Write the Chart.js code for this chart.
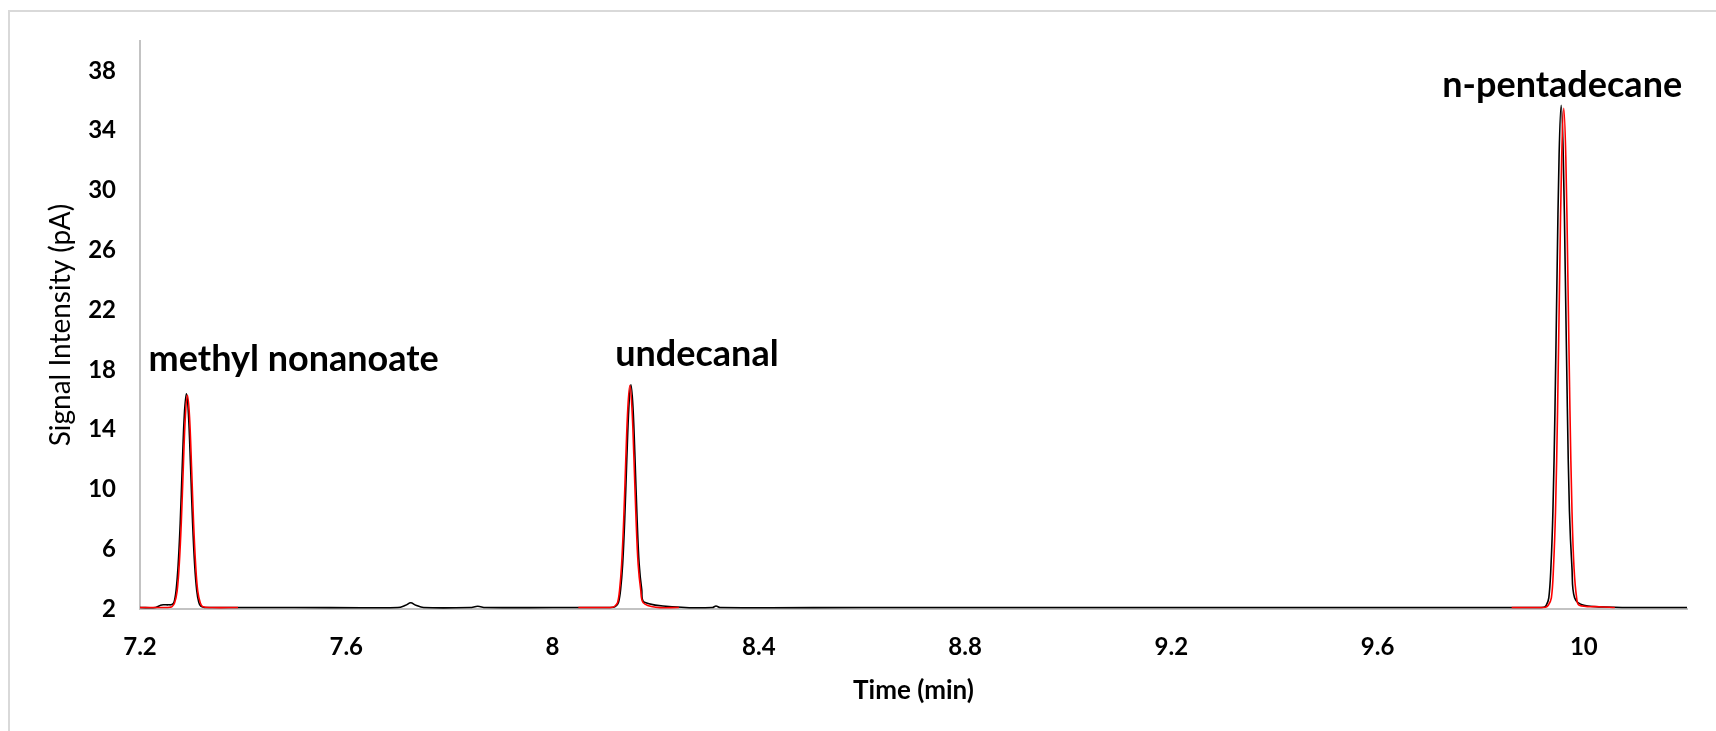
<!DOCTYPE html>
<html>
<head>
<meta charset="utf-8">
<script src="https://cdn.jsdelivr.net/npm/chart.js@4.4.1/dist/chart.umd.min.js"></script>
<style>
    html, body { margin: 0; padding: 0; background: #fff; overflow: hidden; }
    #cadre {
        position: absolute; left: 8px; top: 10px; width: 1760px; height: 780px;
        border-left: 2px solid #d9d9d9; border-top: 2px solid #d9d9d9;
    }
    #zone { position: absolute; left: 0; top: 0; width: 1716px; height: 731px; }
</style>
</head>
<body>
<div id="cadre"></div>
<div id="zone"><canvas id="chromato" width="1716" height="731"></canvas></div>
<script>
// trace noire (continue), temps en min / signal en pA
const tempsNoir = [
    7.20, 7.23, 7.240, 7.245, 7.255, 7.262, 7.266, 7.270, 7.274, 7.278, 7.282, 7.286, 7.290, 7.294,
    7.298, 7.302, 7.306, 7.310, 7.314, 7.318, 7.323, 7.328, 7.36,
    7.50, 7.70, 7.715, 7.725, 7.735, 7.75, 7.84, 7.855, 7.87, 8.00, 8.10,
    8.118, 8.123, 8.128, 8.132, 8.136, 8.140, 8.144, 8.148, 8.152, 8.156, 8.160, 8.164, 8.168,
    8.173, 8.178, 8.25, 8.31, 8.317, 8.325, 8.60, 9.00, 9.40, 9.80, 9.90,
    9.922, 9.927, 9.932, 9.936, 9.940, 9.944, 9.948, 9.952, 9.956, 9.960, 9.964, 9.968, 9.972,
    9.977, 9.982, 10.00, 10.06, 10.10, 10.20
];
const signalNoir = [
    2.10, 2.10, 2.25, 2.28, 2.28, 2.30, 2.45, 3.25, 4.95, 7.75, 11.6, 15.0, 16.4, 15.0,
    11.6, 7.75, 4.95, 3.25, 2.45, 2.18, 2.12, 2.10, 2.10,
    2.10, 2.10, 2.25, 2.42, 2.25, 2.10, 2.10, 2.18, 2.10, 2.10, 2.10,
    2.12, 2.20, 2.45, 3.30, 5.00, 8.00, 12.0, 15.5, 17.0, 15.5, 12.0, 8.00, 5.00,
    3.30, 2.45, 2.12, 2.10, 2.20, 2.10, 2.10, 2.10, 2.10, 2.10, 2.10,
    2.12, 2.25, 2.75, 4.70, 8.55, 15.4, 24.4, 32.4, 35.7, 32.4, 24.4, 15.4, 8.55,
    4.70, 2.75, 2.25, 2.12, 2.10, 2.10, 2.10
];

// trace rouge (par segments, null = coupure)
const tempsRouge = [
    7.20, 7.25, 7.258, 7.262, 7.267, 7.272, 7.276, 7.280, 7.284, 7.288, 7.292, 7.296, 7.300,
    7.304, 7.308, 7.312, 7.317, 7.322, 7.34, 7.39, 7.40,
    8.05, 8.10, 8.116, 8.121, 8.126, 8.130, 8.134, 8.138, 8.142, 8.146, 8.150, 8.154, 8.158,
    8.162, 8.166, 8.171, 8.176, 8.20, 8.245, 8.25,
    9.86, 9.90, 9.926, 9.931, 9.937, 9.941, 9.945, 9.949, 9.953, 9.957, 9.961, 9.965, 9.969,
    9.973, 9.977, 9.981, 9.986, 9.991, 10.03, 10.06
];
const signalRouge = [
    2.10, 2.10, 2.12, 2.15, 2.40, 3.20, 4.90, 7.70, 11.5, 14.9, 16.3, 14.9, 11.5,
    7.70, 4.90, 3.20, 2.40, 2.15, 2.10, 2.10, null,
    2.10, 2.10, 2.12, 2.20, 2.42, 3.27, 5.00, 7.95, 11.95, 15.45, 16.95, 15.45, 11.95,
    7.95, 5.00, 3.27, 2.42, 2.12, 2.10, null,
    2.10, 2.10, 2.12, 2.25, 2.75, 4.70, 8.50, 15.3, 24.2, 32.2, 35.5, 32.2, 24.2,
    15.3, 8.50, 4.70, 2.75, 2.25, 2.15, 2.10
];

// étiquettes des pics : texte, temps du centre, signal du centre
const nomsPics = ['methyl nonanoate', 'undecanal', 'n-pentadecane'];
const tempsEtiquettes = [7.498, 8.28, 9.958];
const signalEtiquettes = [18.7, 19.05, 37.05];

// graduations
const graduationsX = [7.2, 7.6, 8, 8.4, 8.8, 9.2, 9.6, 10];
const graduationsY = [2, 6, 10, 14, 18, 22, 26, 30, 34, 38];

const POLICE = "Lato, 'Open Sans', sans-serif";

function versPoints(temps, signal) {
    return temps.map((t, i) => ({ x: t, y: signal[i] }));
}

const etiquettesPics = {
    id: 'etiquettesPics',
    afterDatasetsDraw(chart) {
        const { ctx, scales } = chart;
        ctx.save();
        ctx.fillStyle = '#000';
        ctx.font = 'bold 36px ' + POLICE;
        ctx.textAlign = 'center';
        ctx.textBaseline = 'middle';
        nomsPics.forEach((nom, i) => {
            ctx.fillText(nom, scales.x.getPixelForValue(tempsEtiquettes[i]), scales.y.getPixelForValue(signalEtiquettes[i]));
        });
        ctx.restore();
    }
};

new Chart(document.getElementById('chromato'), {
    type: 'line',
    data: {
        datasets: [
            {
                label: 'rouge',
                data: versPoints(tempsRouge, signalRouge),
                borderColor: '#ff0000',
                borderWidth: 1.6,
                pointRadius: 0,
                tension: 0.35,
                spanGaps: false
            },
            {
                label: 'noir',
                data: versPoints(tempsNoir, signalNoir),
                borderColor: '#000000',
                borderWidth: 1.6,
                pointRadius: 0,
                tension: 0.35
            }
        ]
    },
    options: {
        responsive: false,
        animation: false,
        layout: { padding: { left: 0, top: 41, right: 29, bottom: 0 } },
        plugins: {
            legend: { display: false },
            tooltip: { enabled: false }
        },
        scales: {
            x: {
                type: 'linear',
                min: 7.2,
                max: 10.2,
                afterBuildTicks: s => { s.ticks = graduationsX.map(v => ({ value: v })); },
                afterFit: s => { s.height = 122; },
                grid: { display: false, drawTicks: false },
                border: { display: true, color: '#c3c3c3', width: 2 },
                ticks: {
                    padding: 24,
                    color: '#000',
                    font: { family: POLICE, size: 24, weight: 'bold' },
                    callback: v => String(v)
                },
                title: {
                    display: true,
                    text: 'Time (min)',
                    color: '#000',
                    font: { family: POLICE, size: 26, weight: 'bold' },
                    padding: { top: 0, bottom: 25 }
                }
            },
            y: {
                min: 2,
                max: 40,
                afterBuildTicks: s => { s.ticks = graduationsY.map(v => ({ value: v })); },
                afterFit: s => { s.width = 140; },
                grid: { display: false, drawTicks: false },
                border: { display: true, color: '#c3c3c3', width: 2 },
                ticks: {
                    padding: 24,
                    color: '#000',
                    font: { family: POLICE, size: 24, weight: 'bold' }
                },
                title: {
                    display: true,
                    text: 'Signal Intensity (pA)',
                    color: '#000',
                    font: { family: POLICE, size: 28 },
                    padding: { top: 44, bottom: 0 }
                }
            }
        }
    },
    plugins: [etiquettesPics]
});
</script>
</body>
</html>
